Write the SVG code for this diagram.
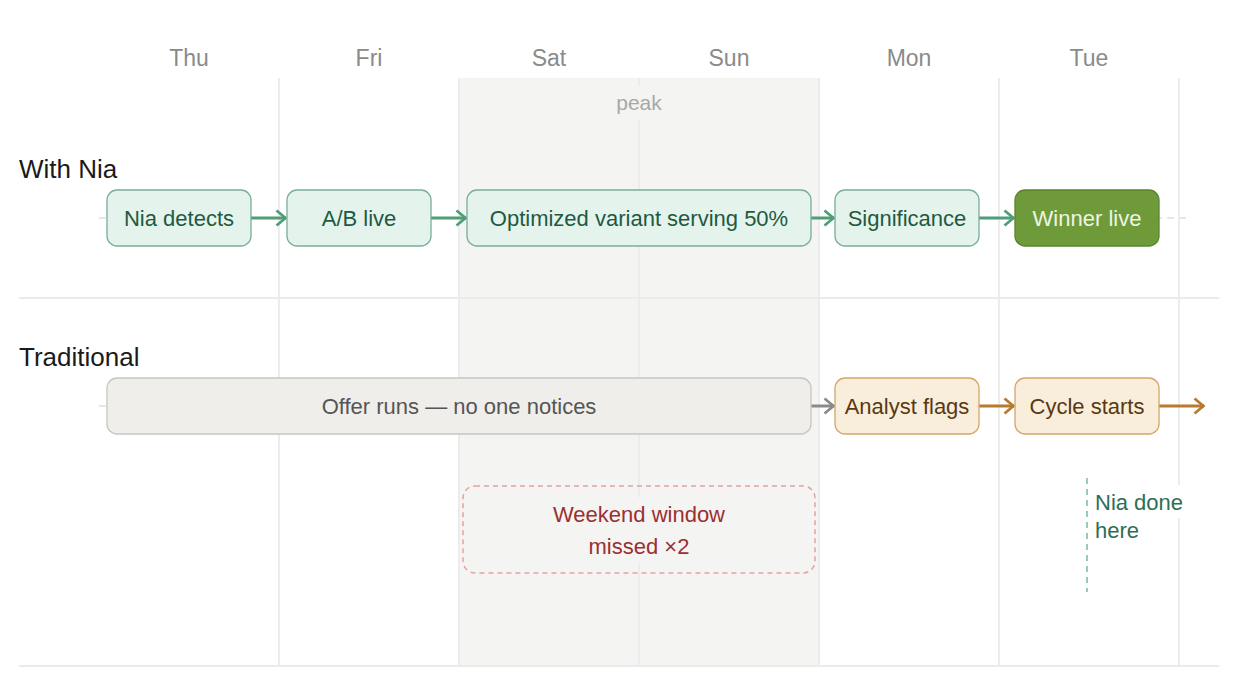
<svg xmlns="http://www.w3.org/2000/svg" width="1258" height="696" viewBox="0 0 1258 696">
<defs>
<style>
text{font-family:"Liberation Sans",Arial,sans-serif;}
.day{font-size:23px;fill:#8a8a8a;text-anchor:middle;}
.row{font-size:26px;fill:#1a1a1a;}
.grid{stroke:#ececec;stroke-width:2;}
.sep{stroke:#ebebeb;stroke-width:2;}
.track{stroke:#e6e6e6;stroke-width:2;stroke-dasharray:7 5;}
.nia rect{fill:#e4f3ec;stroke:#7aae96;stroke-width:1.3;}
.nia text{font-size:22px;fill:#1e5a42;text-anchor:middle;}
.win rect{fill:#6e9a3a;stroke:#5b8331;stroke-width:1.3;}
.win text{font-size:22px;fill:#eef5e2;text-anchor:middle;}
.off rect{fill:#efeeea;stroke:#c6c6c1;stroke-width:1.3;}
.off text{font-size:22px;fill:#555;text-anchor:middle;}
.ora rect{fill:#f9eedb;stroke:#d2a76a;stroke-width:1.3;}
.ora text{font-size:22px;fill:#5a3810;text-anchor:middle;}
.ag{stroke:#4f9e78;stroke-width:3;fill:none;marker-end:url(#mg);}
.agr{stroke:#8a8a8a;stroke-width:3;fill:none;marker-end:url(#mgr);}
.ab{stroke:#b87a30;stroke-width:3;fill:none;marker-end:url(#mb);}
</style>
<marker id="mg" viewBox="0 0 12 18" refX="11" refY="9" markerWidth="12" markerHeight="18" markerUnits="userSpaceOnUse" orient="auto"><path d="M1.5,1.5 L10.5,9 L1.5,16.5" fill="none" stroke="#4f9e78" stroke-width="2.8"/></marker>
<marker id="mgr" viewBox="0 0 12 18" refX="11" refY="9" markerWidth="12" markerHeight="18" markerUnits="userSpaceOnUse" orient="auto"><path d="M1.5,1.5 L10.5,9 L1.5,16.5" fill="none" stroke="#8a8a8a" stroke-width="2.8"/></marker>
<marker id="mb" viewBox="0 0 12 18" refX="11" refY="9" markerWidth="12" markerHeight="18" markerUnits="userSpaceOnUse" orient="auto"><path d="M1.5,1.5 L10.5,9 L1.5,16.5" fill="none" stroke="#b87a30" stroke-width="2.8"/></marker>
</defs>
<rect width="1258" height="696" fill="#ffffff"/>
<g id="background">
<rect x="459" y="78" width="360" height="588" fill="#f4f4f3"/>
<line class="grid" x1="279" y1="78" x2="279" y2="666"/>
<line class="grid" x1="459" y1="78" x2="459" y2="666"/>
<line class="grid" x1="639" y1="78" x2="639" y2="666"/>
<line class="grid" x1="819" y1="78" x2="819" y2="666"/>
<line class="grid" x1="999" y1="78" x2="999" y2="666"/>
<line class="grid" x1="1179" y1="78" x2="1179" y2="666"/>
<line class="sep" x1="19" y1="298" x2="1219" y2="298"/>
<line class="sep" x1="19" y1="666" x2="1219" y2="666"/>
<line class="track" x1="99" y1="218" x2="1187" y2="218"/>
<line class="track" x1="99" y1="406" x2="1187" y2="406"/>
</g>
<g id="days">
<text class="day" x="189" y="66">Thu</text>
<text class="day" x="369" y="66">Fri</text>
<text class="day" x="549" y="66">Sat</text>
<text class="day" x="729" y="66">Sun</text>
<text class="day" x="909" y="66">Mon</text>
<text class="day" x="1089" y="66">Tue</text>
</g>
<g id="peak">
<rect x="611" y="86" width="56" height="34" fill="#f4f4f3"/>
<text x="639" y="110" font-size="21" fill="#a8a8a8" text-anchor="middle">peak</text>
</g>
<g id="row-labels">
<text class="row" x="19" y="178">With Nia</text>
<text class="row" x="19" y="366">Traditional</text>
</g>
<g id="connectors">
<line class="ag" x1="251" y1="218" x2="286" y2="218"/>
<line class="ag" x1="431" y1="218" x2="466" y2="218"/>
<line class="ag" x1="811" y1="218" x2="834" y2="218"/>
<line class="ag" x1="979" y1="218" x2="1014" y2="218"/>
<line class="agr" x1="811" y1="406" x2="834" y2="406"/>
<line class="ab" x1="979" y1="406" x2="1014" y2="406"/>
<line class="ab" x1="1159" y1="406" x2="1204" y2="406"/>
</g>
<g id="n-nia-detects" class="nia"><rect x="107" y="190" width="144" height="56" rx="10"/><text x="179" y="225.5">Nia detects</text></g>
<g id="n-ab-live" class="nia"><rect x="287" y="190" width="144" height="56" rx="10"/><text x="359" y="225.5">A/B live</text></g>
<g id="n-optimized" class="nia"><rect x="467" y="190" width="344" height="56" rx="10"/><text x="639" y="225.5">Optimized variant serving 50%</text></g>
<g id="n-significance" class="nia"><rect x="835" y="190" width="144" height="56" rx="10"/><text x="907" y="225.5">Significance</text></g>
<g id="n-winner" class="win"><rect x="1015" y="190" width="144" height="56" rx="10"/><text x="1087" y="225.5">Winner live</text></g>
<g id="n-offer" class="off"><rect x="107" y="378" width="704" height="56" rx="10"/><text x="459" y="413.5">Offer runs — no one notices</text></g>
<g id="n-analyst" class="ora"><rect x="835" y="378" width="144" height="56" rx="10"/><text x="907" y="413.5">Analyst flags</text></g>
<g id="n-cycle" class="ora"><rect x="1015" y="378" width="144" height="56" rx="10"/><text x="1087" y="413.5">Cycle starts</text></g>
<g id="weekend-missed">
<rect x="463" y="486" width="352" height="87" rx="12" fill="none" stroke="#e6a0a0" stroke-width="1.5" stroke-dasharray="5 4"/>
<rect x="545" y="497" width="190" height="66" fill="#f4f4f3"/>
<text x="639" y="522" font-size="22" fill="#9b3030" text-anchor="middle">Weekend window</text>
<text x="639" y="554" font-size="22" fill="#9b3030" text-anchor="middle">missed ×2</text>
</g>
<g id="nia-done">
<line x1="1087" y1="478" x2="1087" y2="592" stroke="#9ccab8" stroke-width="2" stroke-dasharray="6 5"/>
<rect x="1093" y="485" width="92" height="33" fill="#ffffff"/>
<text x="1095" y="510" font-size="22" fill="#2e6e55">Nia done</text>
<text x="1095" y="538" font-size="22" fill="#2e6e55">here</text>
</g>
</svg>
